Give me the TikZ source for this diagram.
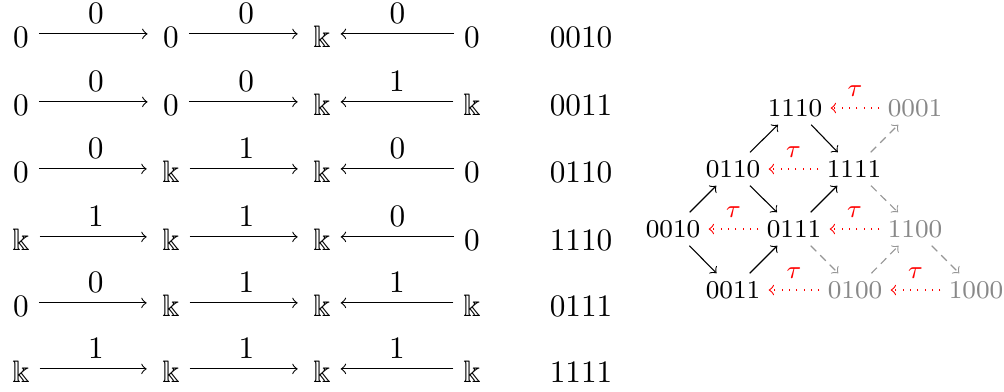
\documentclass[tikz,border=0pt]{standalone}
\usepackage{amssymb}
\definecolor{fadegray}{RGB}{136,136,136}
\definecolor{dashgray}{RGB}{150,150,150}
\begin{document}
\begin{tikzpicture}[x=0.32pt,y=-0.32pt,
  lnode/.style={inner sep=3pt, text height=6.5pt, text depth=0pt, font=\fontsize{10}{12}\selectfont},
  codenode/.style={inner sep=0pt, font=\fontsize{10}{12}\selectfont},
  lab/.style={above, inner sep=3.3pt, font=\fontsize{10}{12}\selectfont},
  arr/.style={->, line width=0.35pt},
  rarr/.style={arr, shorten >=1.8pt},
  rnode/.style={inner sep=2.5pt, text height=5.3pt, text depth=0pt, font=\fontsize{8.2}{10}\selectfont},
  faded/.style={text=fadegray},
  solidarr/.style={->, line width=0.35pt},
  dasharr/.style={->, draw=dashgray, line width=0.35pt, dash pattern=on 2.5pt off 1.8pt},
  tauarr/.style={->, draw=red, line width=0.35pt, dotted},
  taulab/.style={above, text=red, inner sep=3.6pt, font=\fontsize{8.2}{10}\selectfont}
]
\useasboundingbox (0,0) rectangle (1004,391);

% left table
\foreach \i/\y/\a/\b/\c/\d/\p/\q/\r/\code in {
  1/37/0/0/\Bbbk/0/0/0/0/0010,
  2/105/0/0/\Bbbk/\Bbbk/0/0/1/0011,
  3/172/0/\Bbbk/\Bbbk/0/0/1/0/0110,
  4/240/\Bbbk/\Bbbk/\Bbbk/0/1/1/0/1110,
  5/306/0/\Bbbk/\Bbbk/\Bbbk/0/1/1/0111,
  6/372/\Bbbk/\Bbbk/\Bbbk/\Bbbk/1/1/1/1111}{
  \node[lnode] (a\i) at (21,\y) {$\a$};
  \node[lnode] (b\i) at (171,\y) {$\b$};
  \node[lnode] (c\i) at (322,\y) {$\c$};
  \node[lnode] (d\i) at (472,\y) {$\d$};
  \node[codenode] (code\i) at (581,\y) {\code};
  \draw[rarr] ([yshift=1pt]a\i.east) -- node[lab] {$\p$} ([yshift=1pt]b\i.west);
  \draw[rarr] ([yshift=1pt]b\i.east) -- node[lab] {$\q$} ([yshift=1pt]c\i.west);
  \draw[arr] ([yshift=1pt]d\i.west) -- node[lab] {$\r$} ([yshift=1pt]c\i.east);
}

% AR quiver
\node[rnode] (r1110) at (795,108) {1110};
\node[rnode,faded] (r0001) at (915,108) {0001};
\node[rnode] (r0110) at (733,169) {0110};
\node[rnode] (r1111) at (854,169) {1111};
\node[rnode] (r0010) at (673,229) {0010};
\node[rnode] (r0111) at (794,229) {0111};
\node[rnode,faded] (r1100) at (915,229) {1100};
\node[rnode] (r0011) at (733,290) {0011};
\node[rnode,faded] (r0100) at (855,290) {0100};
\node[rnode,faded] (r1000) at (976,290) {1000};

\draw[solidarr] (r0010) -- (r0110);
\draw[solidarr] (r0010) -- (r0011);
\draw[solidarr] (r0110) -- (r1110);
\draw[solidarr] (r0110) -- (r0111);
\draw[solidarr] (r0011) -- (r0111);
\draw[solidarr] (r1110) -- (r1111);
\draw[solidarr] (r0111) -- (r1111);

\draw[dasharr] (r1111) -- (r0001);
\draw[dasharr] (r1111) -- (r1100);
\draw[dasharr] (r0111) -- (r0100);
\draw[dasharr] (r0100) -- (r1100);
\draw[dasharr] (r1100) -- (r1000);

\draw[tauarr] (r0001) -- node[taulab] {$\tau$} (r1110);
\draw[tauarr] (r1111) -- node[taulab] {$\tau$} (r0110);
\draw[tauarr] (r0111) -- node[taulab] {$\tau$} (r0010);
\draw[tauarr] (r1100) -- node[taulab] {$\tau$} (r0111);
\draw[tauarr] (r0100) -- node[taulab] {$\tau$} (r0011);
\draw[tauarr] (r1000) -- node[taulab] {$\tau$} (r0100);
\end{tikzpicture}
\end{document}
